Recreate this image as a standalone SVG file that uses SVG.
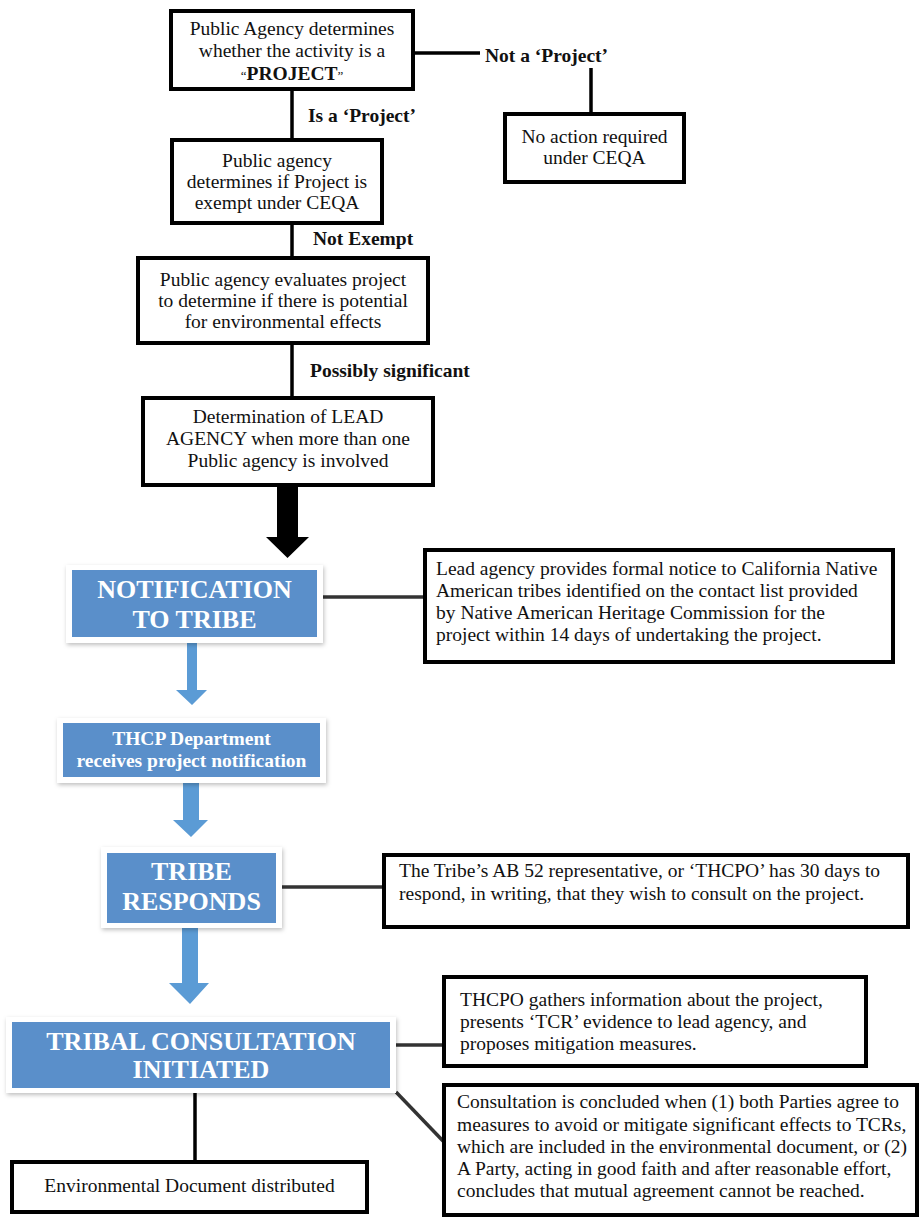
<svg xmlns="http://www.w3.org/2000/svg" width="920" height="1220" viewBox="0 0 920 1220">
<defs>
<style>
.box{fill:#fff;stroke:#000;stroke-width:4}
.t{font-family:"Liberation Serif","Times New Roman",serif;font-size:19.5px;fill:#111}
.c{text-anchor:middle}
.b{font-weight:bold}
.lbl{font-family:"Liberation Serif","Times New Roman",serif;font-size:19.5px;font-weight:bold;fill:#111}
.frame{fill:#fff;filter:url(#sh)}
.blue{fill:#5a8fca}
.bt{font-family:"Liberation Serif","Times New Roman",serif;font-weight:bold;fill:#fff;text-anchor:middle}
.big{font-size:26px}
.mid{font-size:19.5px}
.ln{stroke:#000;stroke-width:3.5;fill:none}
.gl{stroke:#333;stroke-width:3.5;fill:none}
.arr{fill:#5b9bd5}
</style>
<filter id="sh" x="-10%" y="-20%" width="120%" height="140%">
<feDropShadow dx="1" dy="2" stdDeviation="2" flood-color="#000" flood-opacity="0.25"/>
</filter>
</defs>
<rect width="920" height="1220" fill="#fff"/>

<g id="connectors">
<line class="ln" x1="413" y1="53" x2="480" y2="53"/>
<line class="ln" x1="591" y1="68" x2="591" y2="114"/>
<line class="ln" x1="292" y1="89" x2="292" y2="140"/>
<line class="ln" x1="292" y1="223" x2="292" y2="258"/>
<line class="ln" x1="292" y1="343" x2="292" y2="398"/>
<polygon fill="#000" points="277,485 298,485 298,537 309,537 287.5,558 266,537 277,537"/>
<line class="gl" x1="323" y1="597" x2="425" y2="597"/>
<polygon class="arr" points="187,643 197,643 197,690 207,690 192,705 176,690 187,690"/>
<polygon class="arr" points="183,783 199,783 199,820 208,820 191,837 173,820 183,820"/>
<line class="gl" x1="282" y1="887" x2="384" y2="887"/>
<polygon class="arr" points="182,928 198,928 198,983 209,983 190,1004 169,983 182,983"/>
<line class="gl" x1="396" y1="1045" x2="444" y2="1045"/>
<line class="gl" x1="396" y1="1092" x2="444" y2="1142"/>
<line class="ln" x1="195" y1="1093" x2="195" y2="1162"/>
<text class="lbl" x="485" y="62">Not a ‘Project’</text>
<text class="lbl" x="308" y="122">Is a ‘Project’</text>
<text class="lbl" x="313" y="245">Not Exempt</text>
<text class="lbl" x="310" y="377">Possibly significant</text>
</g>

<g id="n1">
<rect class="box" x="171" y="11" width="242" height="78"/>
<text class="t c" x="292" y="35">Public Agency determines</text>
<text class="t c" x="292" y="57">whether the activity is a</text>
<text class="t c" x="292" y="80"><tspan font-size="13">“</tspan><tspan class="b">PROJECT</tspan><tspan font-size="13">”</tspan></text>
</g>

<g id="n-noaction">
<rect class="box" x="505" y="114" width="179" height="68"/>
<text class="t c" x="594.5" y="143">No action required</text>
<text class="t c" x="594.5" y="164">under CEQA</text>
</g>

<g id="n2">
<rect class="box" x="172" y="140" width="210" height="83"/>
<text class="t c" x="277" y="167">Public agency</text>
<text class="t c" x="277" y="188">determines if Project is</text>
<text class="t c" x="277" y="209">exempt under CEQA</text>
</g>

<g id="n3">
<rect class="box" x="138" y="258" width="290" height="85"/>
<text class="t c" x="283" y="286">Public agency evaluates project</text>
<text class="t c" x="283" y="307">to determine if there is potential</text>
<text class="t c" x="283" y="328">for environmental effects</text>
</g>

<g id="n4">
<rect class="box" x="143" y="398" width="290" height="87"/>
<text class="t c" x="288" y="423">Determination of LEAD</text>
<text class="t c" x="288" y="445">AGENCY when more than one</text>
<text class="t c" x="288" y="467">Public agency is involved</text>
</g>

<g id="n-notification">
<rect class="frame" x="66" y="565" width="257" height="78"/>
<rect class="blue" x="72" y="570" width="245" height="67"/>
<text class="bt big" x="194.5" y="598">NOTIFICATION</text>
<text class="bt big" x="194.5" y="628">TO TRIBE</text>
</g>

<g id="c1">
<rect class="box" x="425" y="550" width="468" height="112"/>
<text class="t" x="436" y="575">Lead agency provides formal notice to California Native</text>
<text class="t" x="436" y="597">American tribes identified on the contact list provided</text>
<text class="t" x="436" y="619">by Native American Heritage Commission for the</text>
<text class="t" x="436" y="641">project within 14 days of undertaking the project.</text>
</g>

<g id="n-thcp">
<rect class="frame" x="57" y="718" width="269" height="65"/>
<rect class="blue" x="63" y="723" width="257" height="54"/>
<text class="bt mid" x="191.5" y="745">THCP Department</text>
<text class="bt mid" x="191.5" y="767">receives project notification</text>
</g>

<g id="n-responds">
<rect class="frame" x="101" y="847" width="181" height="81"/>
<rect class="blue" x="107" y="853" width="169" height="70"/>
<text class="bt big" x="191.5" y="880">TRIBE</text>
<text class="bt big" x="191.5" y="910">RESPONDS</text>
</g>

<g id="c2">
<rect class="box" x="384" y="855" width="524" height="72"/>
<text class="t" x="399" y="877">The Tribe’s AB 52 representative, or ‘THCPO’ has 30 days to</text>
<text class="t" x="399" y="900">respond, in writing, that they wish to consult on the project.</text>
</g>

<g id="n-consult">
<rect class="frame" x="6" y="1017" width="390" height="76"/>
<rect class="blue" x="12" y="1022" width="378" height="66"/>
<text class="bt big" x="201" y="1050">TRIBAL CONSULTATION</text>
<text class="bt big" x="201" y="1078">INITIATED</text>
</g>

<g id="c3">
<rect class="box" x="444" y="977" width="422" height="89"/>
<text class="t" x="460" y="1006">THCPO gathers information about the project,</text>
<text class="t" x="460" y="1028">presents ‘TCR’ evidence to lead agency, and</text>
<text class="t" x="460" y="1050">proposes mitigation measures.</text>
</g>

<g id="c4">
<rect class="box" x="444" y="1085" width="473" height="130"/>
<text class="t" x="457" y="1108">Consultation is concluded when (1) both Parties agree to</text>
<text class="t" x="457" y="1131">measures to avoid or mitigate significant effects to TCRs,</text>
<text class="t" x="457" y="1153">which are included in the environmental document, or (2)</text>
<text class="t" x="457" y="1175">A Party, acting in good faith and after reasonable effort,</text>
<text class="t" x="457" y="1197">concludes that mutual agreement cannot be reached.</text>
</g>

<g id="n-envdoc">
<rect class="box" x="12" y="1162" width="355" height="50"/>
<text class="t c" x="189.5" y="1192">Environmental Document distributed</text>
</g>
</svg>
